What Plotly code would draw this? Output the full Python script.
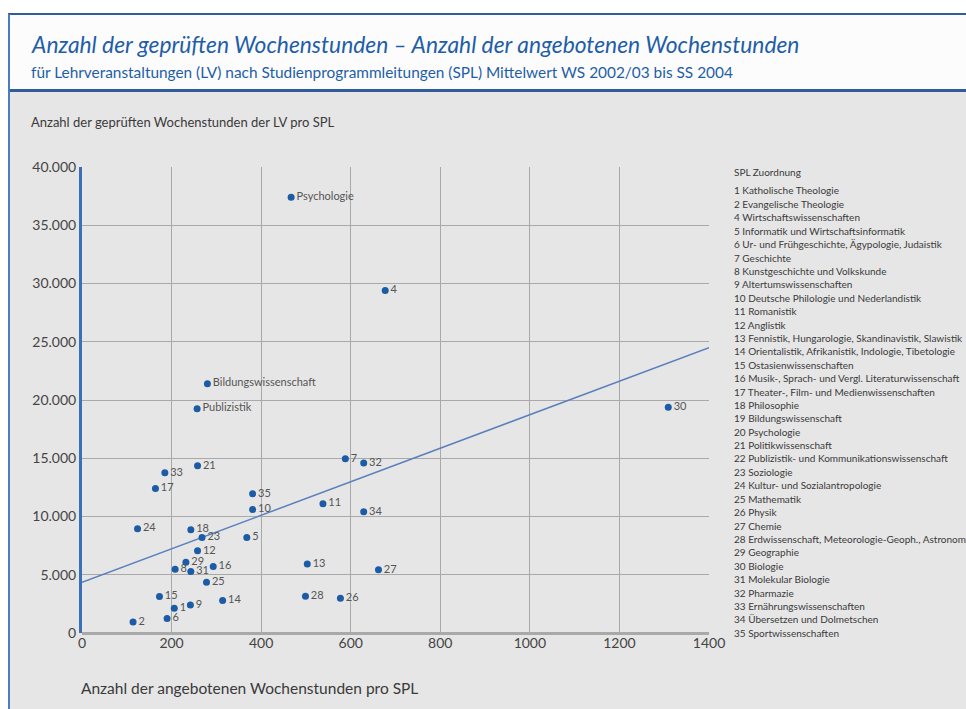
import plotly.graph_objects as go

# ── data ──────────────────────────────────────────────────────────────────────
point_labels = [
    "Psychologie", "4", "Bildungswissenschaft", "Publizistik", "30",
    "7", "32", "33", "21", "17", "35", "10", "11", "34", "24", "18", "23",
    "5", "12", "29", "16", "8", "31", "13", "27", "25", "15", "28", "26",
    "14", "9", "1", "6", "2",
]
offered_hours = [
    467, 677, 280, 257, 1309,
    588, 629, 185, 258, 164, 381, 381, 538, 629, 124, 243, 268,
    368, 258, 232, 293, 208, 243, 503, 662, 278, 173, 499, 577,
    314, 242, 206, 190, 114,
]
examined_hours = [
    37400, 29400, 21400, 19250, 19370,
    14950, 14600, 13750, 14350, 12400, 11950, 10600, 11100, 10400, 8950, 8870, 8200,
    8200, 7050, 6070, 5700, 5470, 5270, 5930, 5420, 4350, 3130, 3150, 2980,
    2780, 2410, 2120, 1240, 950,
]
trend_x = [0, 1400]
trend_y = [4350, 24490]

spl_names = [
    "1 Katholische Theologie",
    "2 Evangelische Theologie",
    "4 Wirtschaftswissenschaften",
    "5 Informatik und Wirtschaftsinformatik",
    "6 Ur- und Frühgeschichte, Ägypologie, Judaistik",
    "7 Geschichte",
    "8 Kunstgeschichte und Volkskunde",
    "9 Altertumswissenschaften",
    "10 Deutsche Philologie und Nederlandistik",
    "11 Romanistik",
    "12 Anglistik",
    "13 Fennistik, Hungarologie, Skandinavistik, Slawistik",
    "14 Orientalistik, Afrikanistik, Indologie, Tibetologie",
    "15 Ostasienwissenschaften",
    "16 Musik-, Sprach- und Vergl. Literaturwissenschaft",
    "17 Theater-, Film- und Medienwissenschaften",
    "18 Philosophie",
    "19 Bildungswissenschaft",
    "20 Psychologie",
    "21 Politikwissenschaft",
    "22 Publizistik- und Kommunikationswissenschaft",
    "23 Soziologie",
    "24 Kultur- und Sozialantropologie",
    "25 Mathematik",
    "26 Physik",
    "27 Chemie",
    "28 Erdwissenschaft, Meteorologie-Geoph., Astronomie",
    "29 Geographie",
    "30 Biologie",
    "31 Molekular Biologie",
    "32 Pharmazie",
    "33 Ernährungswissenschaften",
    "34 Übersetzen und Dolmetschen",
    "35 Sportwissenschaften",
]

_FONT = "Lato, 'Open Sans', sans-serif"
_BLUE = "#1c5ca6"

W, H = 966, 709
L, R, T, B = 82, 257, 167, 76
PW, PH = W - L - R, H - T - B


def px(x):
    return (x - L) / PW


def py(y):
    return (H - B - y) / PH


fig = go.Figure()

fig.add_trace(go.Scatter(
    x=trend_x, y=trend_y, mode="lines",
    line=dict(color="#5a80bd", width=1.5),
    hoverinfo="skip", showlegend=False,
))
fig.add_trace(go.Scatter(
    x=offered_hours, y=examined_hours, mode="markers+text",
    text=point_labels, textposition="middle right",
    textfont=dict(size=11, color="#555555", family=_FONT),
    marker=dict(color=_BLUE, size=7),
    showlegend=False,
))

# frame / header panels
shapes = [
    dict(type="rect", xref="paper", yref="paper", x0=px(9), x1=px(W), y0=py(H), y1=py(91),
         fillcolor="#e6e6e6", line=dict(width=0), layer="below"),
    dict(type="rect", xref="paper", yref="paper", x0=px(9), x1=px(W), y0=py(91), y1=py(14),
         fillcolor="#fcfcfc", line=dict(width=0), layer="below"),
    dict(type="line", xref="paper", yref="paper", x0=px(8), x1=px(W), y0=py(14), y1=py(14),
         line=dict(color="#2f5d9c", width=2)),
    dict(type="line", xref="paper", yref="paper", x0=px(9), x1=px(W), y0=py(90.5), y1=py(90.5),
         line=dict(color="#2f5d9c", width=3)),
    dict(type="line", xref="paper", yref="paper", x0=px(9), x1=px(9), y0=py(H), y1=py(14),
         line=dict(color="#4a7cc0", width=2)),
]

annotations = [
    dict(text="<i>Anzahl der geprüften Wochenstunden – Anzahl der angebotenen Wochenstunden</i>",
         x=px(29), y=py(44), xanchor="left", yanchor="middle",
         font=dict(size=22.8, color="#1f5ea8", family=_FONT)),
    dict(text="für Lehrveranstaltungen (LV) nach Studienprogrammleitungen (SPL) Mittelwert WS 2002/03 bis SS 2004",
         x=px(29), y=py(72), xanchor="left", yanchor="middle",
         font=dict(size=15.4, color="#1f5ea8", family=_FONT)),
    dict(text="Anzahl der geprüften Wochenstunden der LV pro SPL",
         x=px(29), y=py(122), xanchor="left", yanchor="middle",
         font=dict(size=13, color="#3a3a3a", family=_FONT)),
    dict(text="Anzahl der angebotenen Wochenstunden pro SPL",
         x=px(79), y=py(688), xanchor="left", yanchor="middle",
         font=dict(size=15.5, color="#3a3a3a", family=_FONT)),
    dict(text="SPL Zuordnung",
         x=px(732), y=py(172), xanchor="left", yanchor="middle",
         font=dict(size=10, color="#3a3a3a", family=_FONT)),
]
for i, name in enumerate(spl_names):
    annotations.append(dict(
        text=name, x=px(732), y=py(190.5 + i * 13.4), xanchor="left", yanchor="middle",
        font=dict(size=10, color="#3a3a3a", family=_FONT),
    ))
for a in annotations:
    a.update(xref="paper", yref="paper", showarrow=False)

fig.update_layout(
    width=W, height=H,
    margin=dict(l=L, r=R, t=T, b=B, autoexpand=False),
    paper_bgcolor="white",
    plot_bgcolor="rgba(0,0,0,0)",
    separators=",.",
    font=dict(family=_FONT, color="#444444"),
    xaxis=dict(
        range=[0, 1400], tickvals=[0, 200, 400, 600, 800, 1000, 1200, 1400],
        tickformat="d", showgrid=True, gridcolor="#a9a9a9", gridwidth=1,
        zeroline=False, showline=False, ticks="",
        tickfont=dict(size=14, color="#444444"),
    ),
    yaxis=dict(
        range=[0, 40000], dtick=5000, tickformat=",d",
        showgrid=True, gridcolor="#a9a9a9", gridwidth=1,
        zeroline=True, zerolinecolor="#a9a9a9", zerolinewidth=3,
        showline=True, linecolor="#3a70b8", linewidth=3,
        ticks="", tickfont=dict(size=14, color="#444444"),
    ),
    shapes=shapes,
    annotations=annotations,
    showlegend=False,
)

fig.write_html(
    "out.html",
    config={"displayModeBar": False},
    post_script="document.body.style.margin='0';document.body.style.overflow='hidden';",
)
